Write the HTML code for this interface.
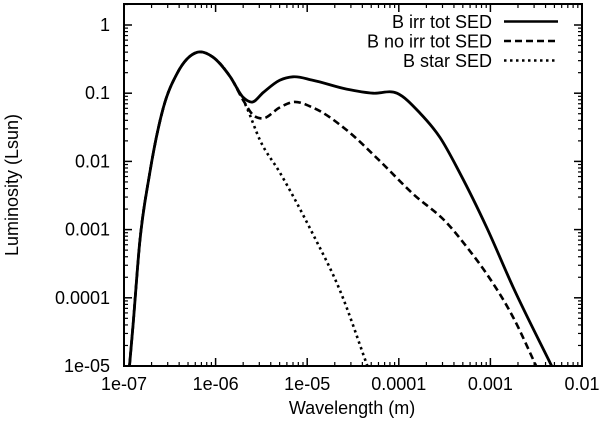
<!DOCTYPE html>
<html><head><meta charset="utf-8"><style>
html,body{margin:0;padding:0;background:#fff}
svg{display:block}
text{font-family:"Liberation Sans",Arial,sans-serif;font-size:18px;fill:#000}
</style></head><body>
<svg id="chart" width="600" height="425" viewBox="0 0 600 425" xmlns="http://www.w3.org/2000/svg">
<defs><clipPath id="clip"><rect x="124" y="4" width="458" height="362"/></clipPath></defs>
<g id="series" clip-path="url(#clip)"></g>
<rect x="124" y="4" width="458" height="362" fill="none" stroke="#000" stroke-width="2"/>
<g id="ticks"></g>
<text x="352" y="414" text-anchor="middle">Wavelength (m)</text>
<text transform="translate(18,185) rotate(-90)" text-anchor="middle">Luminosity (Lsun)</text>
<g id="legend"></g>
</svg>
<script>
// data (log10 values)
const xTickExps = [-7, -6, -5, -4, -3, -2];
const xTickLabels = ["1e-07", "1e-06", "1e-05", "0.0001", "0.001", "0.01"];
const yTickExps = [0, -1, -2, -3, -4, -5];
const yTickLabels = ["1", "0.1", "0.01", "0.001", "0.0001", "1e-05"];
const irrLogLambda = [-6.94,-6.90,-6.83,-6.72,-6.57,-6.42,-6.20,-6.03,-5.84,-5.70,-5.60,-5.48,-5.30,-5.155,-4.94,-4.57,-4.28,-4.02,-3.77,-3.55,-3.33,-3.04,-2.75,-2.32];
const irrLogL      = [-5.0,-4.38,-3.21,-2.18,-1.21,-0.71,-0.40,-0.47,-0.76,-1.06,-1.13,-0.99,-0.81,-0.76,-0.81,-0.94,-1.00,-1.00,-1.29,-1.65,-2.18,-2.97,-3.85,-5.03];
const noIrrLogLambda = [-6.94,-6.90,-6.83,-6.72,-6.57,-6.42,-6.20,-6.03,-5.84,-5.70,-5.59,-5.49,-5.30,-5.155,-4.94,-4.57,-4.21,-3.85,-3.47,-3.255,-3.04,-2.75,-2.49];
const noIrrLogL      = [-5.0,-4.38,-3.21,-2.18,-1.21,-0.71,-0.40,-0.47,-0.76,-1.10,-1.32,-1.37,-1.21,-1.13,-1.21,-1.54,-1.99,-2.47,-2.91,-3.26,-3.65,-4.29,-5.03];
const starLogLambda = [-6.94,-6.90,-6.83,-6.72,-6.57,-6.42,-6.20,-6.03,-5.84,-5.66,-5.515,-5.30,-4.94,-4.64,-4.34];
const starLogL      = [-5.0,-4.38,-3.21,-2.18,-1.21,-0.71,-0.40,-0.47,-0.76,-1.21,-1.69,-2.16,-3.06,-3.90,-5.01];

const X0=124, X1=582, Y0=366, Y1=4;
const xMin=-7, xMax=-2, yTop=25, yDec=68.2;
function sx(v){return X0+(v-xMin)*(X1-X0)/(xMax-xMin);}
function sy(v){return yTop - v*yDec;}
const NS="http://www.w3.org/2000/svg";
function mk(tag,attrs,parent){const e=document.createElementNS(NS,tag);for(const k in attrs)e.setAttribute(k,attrs[k]);parent.appendChild(e);return e;}
const ticks=document.getElementById('ticks');
xTickExps.forEach((e,i)=>{
  const x=sx(e);
  const t1=mk('line',{x1:x,x2:x,y1:Y0,y2:Y0-8,stroke:'#000','stroke-width':1.5},ticks);
  
  
  const t2=mk('line',{x1:x,x2:x,y1:Y1,y2:Y1+8,stroke:'#000','stroke-width':1.5},ticks);
  
  
  const lb=mk('text',{x:x,y:390,'text-anchor':'middle'},ticks);
  lb.textContent=xTickLabels[i];
  
  
  if(i<xTickExps.length-1){
    for(let m=2;m<=9;m++){
      const mx=sx(e+Math.log10(m));
      const a=mk('line',{x1:mx,x2:mx,y1:Y0,y2:Y0-4,stroke:'#000','stroke-width':1.2},ticks);
      
      
      const b=mk('line',{x1:mx,x2:mx,y1:Y1,y2:Y1+4,stroke:'#000','stroke-width':1.2},ticks);
      
      
    }
  }
});
yTickExps.forEach((e,i)=>{
  const y=sy(e);
  const t1=mk('line',{x1:X0,x2:X0+8,y1:y,y2:y,stroke:'#000','stroke-width':1.5},ticks);
  
  
  const t2=mk('line',{x1:X1,x2:X1-8,y1:y,y2:y,stroke:'#000','stroke-width':1.5},ticks);
  
  
  const lb=mk('text',{x:110,y:y+6,'text-anchor':'end'},ticks);
  lb.textContent=yTickLabels[i];
  
  
  for(let m=2;m<=9;m++){
    const my=sy(e+Math.log10(m));
    if(my<Y1) continue;
    const a=mk('line',{x1:X0,x2:X0+4,y1:my,y2:my,stroke:'#000','stroke-width':1.2},ticks);
    
    
    const b=mk('line',{x1:X1,x2:X1-4,y1:my,y2:my,stroke:'#000','stroke-width':1.2},ticks);
    
    
  }
});
// x-parameterized cubic Hermite with central-difference tangents
function pathOf(xs,ys){
  const n=xs.length;
  const px=xs.map(sx), py=ys.map(sy);
  const m=new Array(n);
  m[0]=(py[1]-py[0])/(px[1]-px[0]);
  m[n-1]=(py[n-1]-py[n-2])/(px[n-1]-px[n-2]);
  for(let i=1;i<n-1;i++){
    const d0=(py[i]-py[i-1])/(px[i]-px[i-1]), d1=(py[i+1]-py[i])/(px[i+1]-px[i]);
    const h0=px[i]-px[i-1], h1=px[i+1]-px[i];
    m[i]=(d0*h1+d1*h0)/(h0+h1);
  }
  let s='M'+px[0]+','+py[0];
  for(let i=0;i<n-1;i++){
    const h=(px[i+1]-px[i])/3;
    s+=' C'+(px[i]+h)+','+(py[i]+m[i]*h)+' '+(px[i+1]-h)+','+(py[i+1]-m[i+1]*h)+' '+px[i+1]+','+py[i+1];
  }
  return s;
}
const series=document.getElementById('series');
const sStar=mk('path',{d:pathOf(starLogLambda,starLogL),fill:'none',stroke:'#000','stroke-width':2.6,'stroke-dasharray':'2.5,3.5'},series);


const sNo=mk('path',{d:pathOf(noIrrLogLambda,noIrrLogL),fill:'none',stroke:'#000','stroke-width':2.6,'stroke-dasharray':'7,4'},series);


const sIrr=mk('path',{d:pathOf(irrLogLambda,irrLogL),fill:'none',stroke:'#000','stroke-width':2.8},series);


const legend=document.getElementById('legend');
const legLabels=["B irr tot SED","B no irr tot SED","B star SED"];
const legDash=[null,'7,4','2.5,3.5'];
legLabels.forEach((l,i)=>{
  const y=21.5+i*19.5;
  const t=mk('text',{x:492,y:y+6.5,'text-anchor':'end'},legend);
  t.textContent=l;
  
  
  const attrs={x1:504,x2:558,y1:y,y2:y,stroke:'#000','stroke-width':2.6};
  if(legDash[i]) attrs['stroke-dasharray']=legDash[i];
  const ln=mk('line',attrs,legend);
  
  
});
</script>
</body></html>
